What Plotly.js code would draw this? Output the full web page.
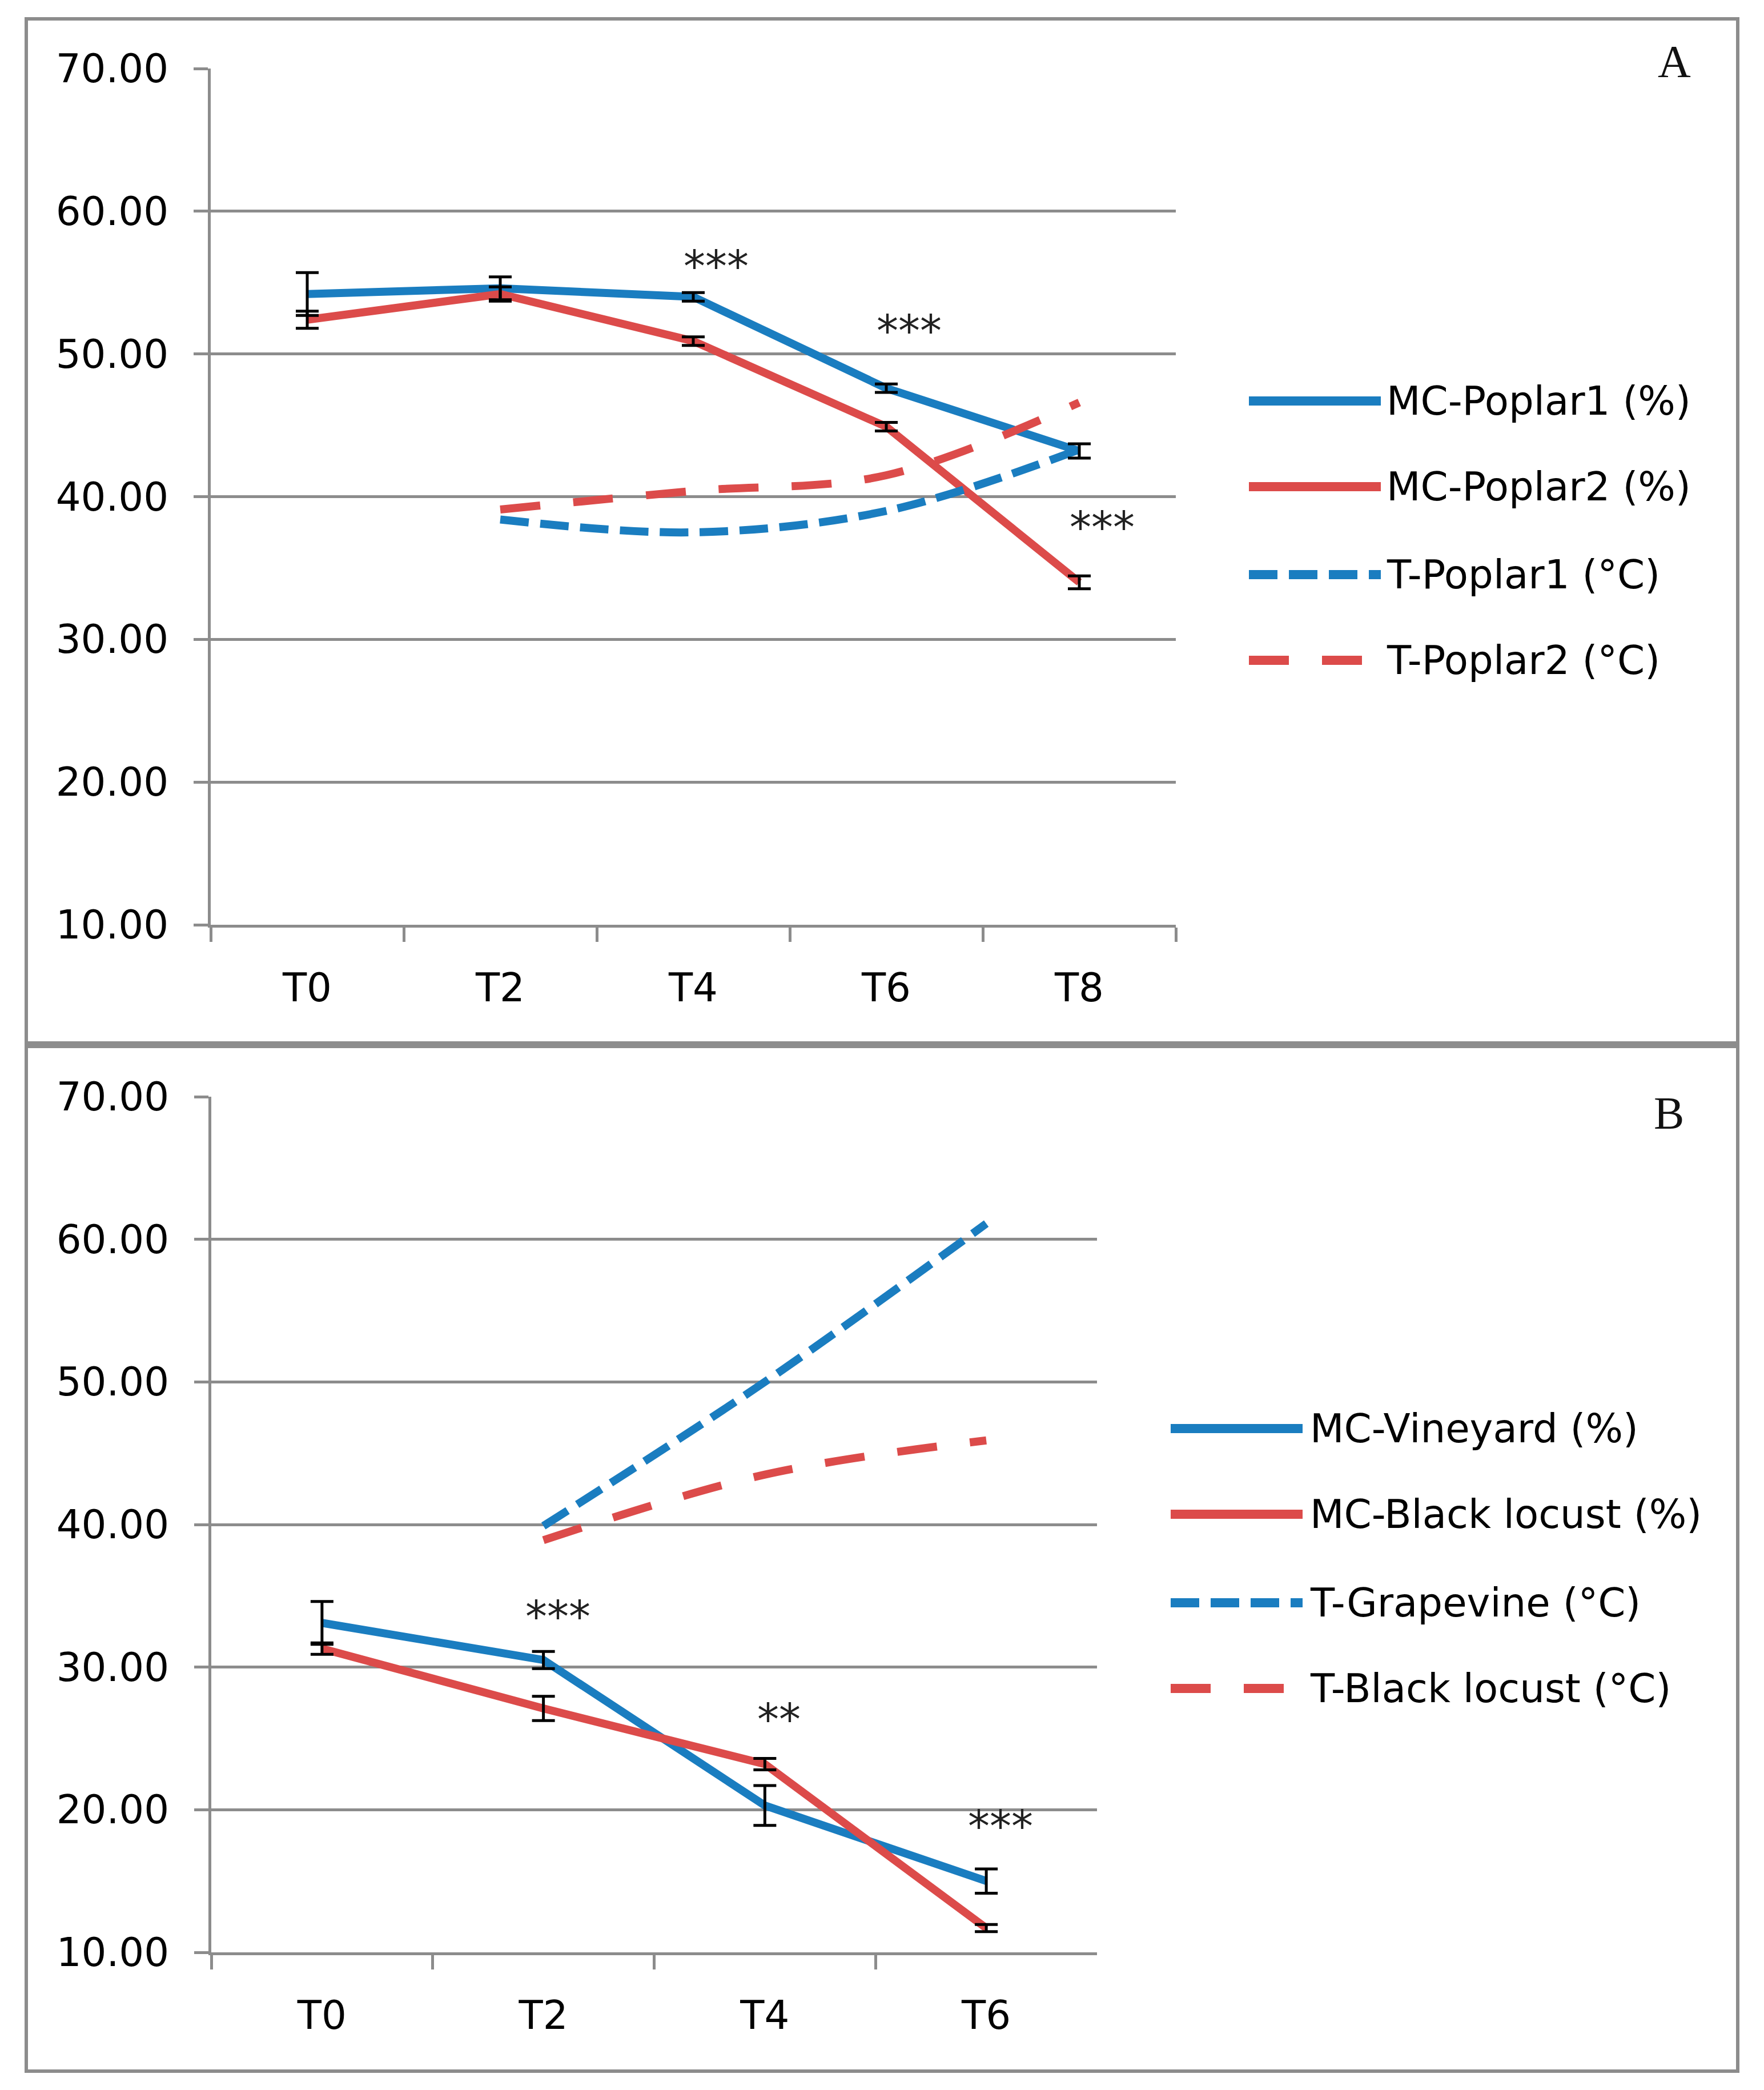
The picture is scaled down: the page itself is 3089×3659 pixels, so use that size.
<!DOCTYPE html>
<html><head><meta charset="utf-8">
<script src="https://cdn.plot.ly/plotly-3.0.1.min.js"></script>
<style>html,body{margin:0;padding:0;background:#fff}#chart{width:3089px;height:3659px}</style>
</head><body><div id="chart"></div>
<script>
// ---------- DATA ----------
const categoriesA = ['T0','T2','T4','T6','T8'];
const mcPoplar1 = [54.2, 54.6, 54.0, 47.6, 43.2];
const mcPoplar1Err = [1.5, 0.8, 0.3, 0.3, 0.5];
const mcPoplar2 = [52.4, 54.2, 50.9, 44.9, 34.0];
const mcPoplar2Err = [0.6, 0.5, 0.3, 0.3, 0.45];
const tPoplar1 = [null, 38.4, 37.5, 39.0, 43.3];
const tPoplar2 = [null, 39.1, 40.4, 41.5, 46.6];
const namesA = ['MC-Poplar1 (%)','MC-Poplar2 (%)','T-Poplar1 (°C)','T-Poplar2 (°C)'];
const sigLabelsA = ['', '', '***', '***', '***'];
const sigYA = [null, null, 57.0, 52.5, 38.7];

const categoriesB = ['T0','T2','T4','T6'];
const mcVineyard = [33.1, 30.5, 20.3, 15.0];
const mcVineyardErr = [1.5, 0.6, 1.4, 0.85];
const mcBlackLocust = [31.3, 27.1, 23.2, 11.7];
const mcBlackLocustErr = [0.4, 0.85, 0.4, 0.25];
const tGrapevine = [null, 39.9, 50.0, 61.1];
const tBlackLocust = [null, 38.9, 43.5, 45.9];
const namesB = ['MC-Vineyard (%)','MC-Black locust (%)','T-Grapevine (°C)','T-Black locust (°C)'];
const sigLabelsB = ['', '***', '**', '***'];
const sigYB = [null, 34.4, 27.2, 19.7];

const yTickVals = [10, 20, 30, 40, 50, 60, 70];

// ---------- STYLE ----------
const W = 3089, H = 3659;
const px = x => x / W;
const py = y => 1 - y / H;
const BLUE = '#1a7dc0', RED = '#dc4b4a', GRID = '#8c8c8c';
const LW = 14;
const FONT = 'DejaVu Sans';
const TICK_FS = 69;
const LEG_FS = 69;
const seriesStyles = [
  {color: BLUE, dash: 'solid'},
  {color: RED, dash: 'solid'},
  {color: BLUE, dash: '50px,20px'},
  {color: RED, dash: '70px,58px'}
];

function lineTrace(x, y, name, st, xa, ya, spline) {
  return {x: x, y: y, name: name, type: 'scatter', mode: 'lines',
    xaxis: xa, yaxis: ya, showlegend: false, hoverinfo: 'skip',
    line: {color: st.color, width: LW, dash: st.dash, shape: spline ? 'spline' : 'linear'}};
}
function errTrace(x, y, err, xa, ya) {
  return {x: x, y: y, type: 'scatter', mode: 'markers', xaxis: xa, yaxis: ya,
    showlegend: false, hoverinfo: 'skip', marker: {size: 1, opacity: 0},
    error_y: {type: 'data', array: err, visible: true, color: '#000', thickness: 5, width: 20}};
}

const traces = [
  lineTrace(categoriesA, mcPoplar1, namesA[0], seriesStyles[0], 'x', 'y', false),
  lineTrace(categoriesA, mcPoplar2, namesA[1], seriesStyles[1], 'x', 'y', false),
  lineTrace(categoriesA, tPoplar1, namesA[2], seriesStyles[2], 'x', 'y', true),
  lineTrace(categoriesA, tPoplar2, namesA[3], seriesStyles[3], 'x', 'y', true),
  errTrace(categoriesA, mcPoplar1, mcPoplar1Err, 'x', 'y'),
  errTrace(categoriesA, mcPoplar2, mcPoplar2Err, 'x', 'y'),
  lineTrace(categoriesB, mcVineyard, namesB[0], seriesStyles[0], 'x2', 'y2', false),
  lineTrace(categoriesB, mcBlackLocust, namesB[1], seriesStyles[1], 'x2', 'y2', false),
  lineTrace(categoriesB, tGrapevine, namesB[2], seriesStyles[2], 'x2', 'y2', true),
  lineTrace(categoriesB, tBlackLocust, namesB[3], seriesStyles[3], 'x2', 'y2', true),
  errTrace(categoriesB, mcVineyard, mcVineyardErr, 'x2', 'y2'),
  errTrace(categoriesB, mcBlackLocust, mcBlackLocustErr, 'x2', 'y2')
];

function xAxis(domain, n, anchor) {
  return {domain: domain, anchor: anchor, type: 'category', range: [-0.5, n - 0.5], fixedrange: true,
    showline: true, linecolor: GRID, linewidth: 5, showgrid: false, zeroline: false,
    ticks: 'outside', tickson: 'boundaries', ticklen: 25, tickwidth: 5, tickcolor: GRID,
    ticklabelstandoff: 46, tickfont: {family: FONT, size: TICK_FS, color: '#000'}};
}
function yAxis(domain, anchor) {
  return {domain: domain, anchor: anchor, range: [10, 70], tickvals: yTickVals, tickformat: '.2f',
    fixedrange: true, showline: true, linecolor: GRID, linewidth: 5,
    showgrid: true, gridcolor: GRID, gridwidth: 5, zeroline: false,
    ticks: 'outside', ticklen: 25, tickwidth: 5, tickcolor: GRID,
    ticklabelstandoff: 30, tickfont: {family: FONT, size: TICK_FS, color: '#000'}};
}

const shapes = [];
const annotations = [];
// panel borders
[[46, 33, 3043, 1826], [46, 1832, 3043, 3626]].forEach(r => {
  shapes.push({type: 'rect', xref: 'paper', yref: 'paper', x0: px(r[0]), x1: px(r[2]),
    y0: py(r[3]), y1: py(r[1]), line: {color: GRID, width: 6}, fillcolor: 'rgba(0,0,0,0)'});
});
// legends
function legend(names, x0, x1, ys, tx) {
  names.forEach((n, i) => {
    const st = seriesStyles[i];
    shapes.push({type: 'line', xref: 'paper', yref: 'paper', x0: px(x0), x1: px(x1),
      y0: py(ys[i]), y1: py(ys[i]), line: {color: st.color, width: LW + 2, dash: st.dash}});
    annotations.push({xref: 'paper', yref: 'paper', x: px(tx), y: py(ys[i]), text: n,
      showarrow: false, xanchor: 'left', yanchor: 'middle',
      font: {family: FONT, size: LEG_FS, color: '#000'}});
  });
}
legend(namesA, 2187, 2418, [702, 852, 1006, 1156], 2426);
legend(namesB, 2050, 2281, [2501, 2651, 2806, 2956], 2292);
// significance marks
function sig(cats, labels, ys, xa, ya, xshift) {
  cats.forEach((c, i) => {
    if (!labels[i]) return;
    annotations.push({xref: xa, yref: ya, x: c, y: ys[i], text: labels[i], showarrow: false,
      xanchor: 'center', yanchor: 'middle',
      xshift: xshift, yshift: -22, font: {family: FONT, size: 76, color: '#222'}});
  });
}
sig(categoriesA, sigLabelsA, sigYA, 'x', 'y', 40);
sig(categoriesB, sigLabelsB, sigYB, 'x2', 'y2', 25);
// panel letters
annotations.push({xref: 'paper', yref: 'paper', x: px(2932), y: py(108), text: 'A', showarrow: false,
  xanchor: 'center', yanchor: 'middle',
  font: {family: 'Liberation Serif', size: 80, color: '#111'}});
annotations.push({xref: 'paper', yref: 'paper', x: px(2922), y: py(1949), text: 'B', showarrow: false,
  xanchor: 'center', yanchor: 'middle',
  font: {family: 'Liberation Serif', size: 80, color: '#111'}});

const layout = {
  width: W, height: H, margin: {l: 0, r: 0, t: 0, b: 0},
  paper_bgcolor: '#fff', plot_bgcolor: '#fff', showlegend: false,
  xaxis: xAxis([px(369), px(2059)], categoriesA.length, 'y'),
  yaxis: yAxis([py(1619), py(120)], 'x'),
  xaxis2: xAxis([px(370), px(1921)], categoriesB.length, 'y2'),
  yaxis2: yAxis([py(3418), py(1920)], 'x2'),
  shapes: shapes, annotations: annotations
};

Plotly.newPlot('chart', traces, layout, {staticPlot: true, displayModeBar: false});
</script>
</body></html>
